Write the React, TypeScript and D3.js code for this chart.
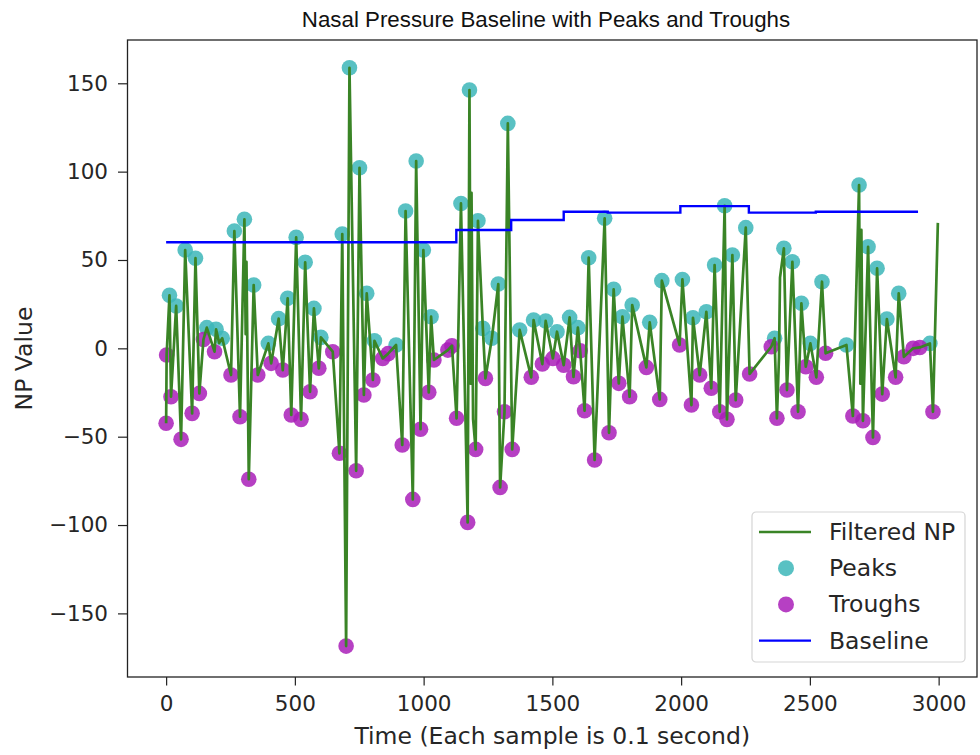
import * as d3 from "d3";
import { useEffect, useRef } from "react";

// sample index, value
const peaks: [number, number][] = [
  [13, 30], [39, 24], [74, 55.6], [114, 51], [158, 11.7], [194, 10.8], [218, 5.7], [265, 66.4], [304, 73], [340, 35.8],
  [397, 2.8], [437, 16.8], [472, 28.3], [505, 62.8], [540, 48.7], [574, 22.6], [601, 6.2], [684, 64.7], [712, 158.8], [751, 102.2],
  [779, 31.1], [809, 4.3], [893, 1.9], [930, 77.7], [971, 106], [999, 55.6], [1029, 17.9], [1145, 82], [1178, 146.2], [1211, 72.2],
  [1230, 11.3], [1265, 5.7], [1290, 36.4], [1327, 127.3], [1373, 10.4], [1427, 16], [1474, 15.5], [1518, 9.4], [1567, 17.5], [1599, 11.7],
  [1641, 51.3], [1703, 73.6], [1738, 33.4], [1772, 17.9], [1810, 24.5], [1878, 14.7], [1925, 38.3], [2005, 39], [2046, 17.3], [2098, 20.7],
  [2130, 47.1], [2169, 80.7], [2199, 52.8], [2251, 68.3], [2363, 5.7], [2399, 56.6], [2432, 49], [2467, 25.5], [2502, 2.8], [2547, 37.7],
  [2642, 1.9], [2691, 92.4], [2726, 57.5], [2761, 45.3], [2799, 16.6], [2845, 31.1], [2966, 2.8],
];

const troughs: [number, number][] = [
  [0, -42.4], [2, -3.8], [19, -27.4], [58, -51.5], [101, -36.8], [129, -25.5], [145, 5], [188, -1.9], [252, -15.1], [287, -38.7],
  [321, -74.1], [356, -15.1], [408, -8.5], [453, -12.3], [486, -37.7], [524, -40.2], [559, -24.6], [593, -11.3], [647, -1.9], [673, -59.4],
  [699, -168.5], [738, -69.3], [768, -26.4], [803, -17.9], [841, -5.7], [862, -3], [917, -54.7], [958, -85.5], [988, -45.8], [1020, -24.9],
  [1040, -6.6], [1094, -1], [1110, 1.5], [1128, -39.6], [1171, -98.5], [1202, -57.2], [1240, -17], [1297, -78.7], [1314, -35.9], [1344, -57.2],
  [1418, -16.4], [1461, -8.9], [1502, -5.7], [1544, -9.5], [1582, -16.1], [1608, -1.4], [1625, -35.3], [1664, -63.2], [1720, -47.8], [1758, -19.8],
  [1800, -27.4], [1865, -10.8], [1917, -28.9], [1994, 1.9], [2040, -32.1], [2072, -15.1], [2117, -22.6], [2150, -35.9], [2178, -40.2], [2212, -29.3],
  [2266, -14.5], [2350, 0.9], [2372, -39.6], [2411, -23.6], [2454, -35.9], [2484, -10.4], [2525, -16.4], [2561, -2.8], [2667, -38.3], [2706, -41],
  [2745, -50.4], [2781, -25.9], [2833, -16.4], [2865, -4.8], [2901, 0], [2927, 0.5], [2978, -35.9],
];

// unmarked vertices of the filtered trace (secondary spikes, end point)
const extraVertices: [number, number][] = [
  [206, 3], [309, 8], [312, 49], [1183, -20], [1186, 88], [1192, -40], [2380, -5], [2384, 40], [2696, -20], [2700, 67], [2997, 71],
];

// baseline steps: start sample, level
const baselineSteps: [number, number][] = [
  [0, 60], [1127, 67], [1340, 72.6], [1544, 77.3], [1715, 76.8], [1997, 80.5], [2263, 76.8], [2523, 77.3], [2920, 77.3],
];

const xTicks = [0, 500, 1000, 1500, 2000, 2500, 3000];
const yTicks = [-150, -100, -50, 0, 50, 100, 150];
const legendLabels = ["Filtered NP", "Peaks", "Troughs", "Baseline"];

const App = () => {
  const svgRef = useRef<SVGSVGElement>(null);

  const renderSVG = () => {
    const dims = { width: 980, height: 755, left: 127.5, right: 977, top: 40, bottom: 677 };
    const green = "#3a8426";
    const cyan = "#3cb6b9";
    const magenta = "#a91fb8";
    const blue = "#0000ff";
    const font = "DejaVu Sans, Verdana, sans-serif";

    const x = d3.scaleLinear([-150, 3149], [dims.left, dims.right]);
    const y = d3.scaleLinear([-186, 174.5], [dims.bottom, dims.top]);

    const svg = d3.select(svgRef.current);
    svg.selectAll("*").remove();
    svg.attr("width", dims.width).attr("height", dims.height);

    svg.append("rect").attr("width", dims.width).attr("height", dims.height).attr("fill", "white");

    const plot = svg.append("g");

    // markers under the trace
    plot.selectAll("circle.peak")
      .data(peaks)
      .enter()
      .append("circle")
      .attr("cx", (d) => x(d[0]))
      .attr("cy", (d) => y(d[1]))
      .attr("r", 7.8)
      .attr("fill", cyan)
      .attr("fill-opacity", 0.85);

    plot.selectAll("circle.trough")
      .data(troughs)
      .enter()
      .append("circle")
      .attr("cx", (d) => x(d[0]))
      .attr("cy", (d) => y(d[1]))
      .attr("r", 7.8)
      .attr("fill", magenta)
      .attr("fill-opacity", 0.85);

    const signal = [...peaks, ...troughs, ...extraVertices].sort((a, b) => a[0] - b[0]);
    const line = d3.line<[number, number]>().x((d) => x(d[0])).y((d) => y(d[1]));

    plot.append("path")
      .attr("d", line(signal))
      .attr("fill", "none")
      .attr("stroke", green)
      .attr("stroke-width", 2.7)
      .attr("stroke-linejoin", "round");

    const stepLine = d3.line<[number, number]>().x((d) => x(d[0])).y((d) => y(d[1])).curve(d3.curveStepAfter);
    plot.append("path")
      .attr("d", stepLine(baselineSteps))
      .attr("fill", "none")
      .attr("stroke", blue)
      .attr("stroke-width", 2.4);

    // axes
    const styleAxis = (g) => {
      g.select("path.domain").remove();
      g.selectAll(".tick line").attr("stroke", "#222").attr("stroke-width", 1.2);
      g.selectAll(".tick text").attr("font-size", 21.5).attr("font-family", font).attr("fill", "#262626");
    };

    svg.append("g")
      .attr("transform", `translate(0,${dims.bottom})`)
      .call(d3.axisBottom(x).tickValues(xTicks).tickFormat(d3.format("d")).tickSize(8.5).tickPadding(10))
      .call(styleAxis);

    svg.append("g")
      .attr("transform", `translate(${dims.left},0)`)
      .call(d3.axisLeft(y).tickValues(yTicks).tickFormat(d3.format("d")).tickSize(9.5).tickPadding(10))
      .call(styleAxis);

    svg.append("rect")
      .attr("x", dims.left)
      .attr("y", dims.top)
      .attr("width", dims.right - dims.left)
      .attr("height", dims.bottom - dims.top)
      .attr("fill", "none")
      .attr("stroke", "#222")
      .attr("stroke-width", 1.3);

    svg.append("text")
      .attr("x", 546)
      .attr("y", 27)
      .attr("text-anchor", "middle")
      .attr("font-size", 22.3)
      .attr("font-family", "Liberation Sans, Arial, sans-serif")
      .attr("fill", "#111")
      .text("Nasal Pressure Baseline with Peaks and Troughs");

    svg.append("text")
      .attr("x", (dims.left + dims.right) / 2)
      .attr("y", 744)
      .attr("text-anchor", "middle")
      .attr("font-size", 23.5)
      .attr("font-family", font)
      .attr("fill", "#262626")
      .text("Time (Each sample is 0.1 second)");

    svg.append("text")
      .attr("transform", `translate(31.5,${(dims.top + dims.bottom) / 2}) rotate(-90)`)
      .attr("text-anchor", "middle")
      .attr("font-size", 23.5)
      .attr("font-family", font)
      .attr("fill", "#262626")
      .text("NP Value");

    // legend
    const legend = svg.append("g").attr("transform", "translate(752,512)");
    legend.append("rect")
      .attr("width", 213)
      .attr("height", 150)
      .attr("rx", 4)
      .attr("fill", "white")
      .attr("fill-opacity", 0.8)
      .attr("stroke", "#d5d5d5")
      .attr("stroke-width", 1.2);

    const rowY = (i) => 20 + i * 36.2;
    legendLabels.forEach((label, i) => {
      const g = legend.append("g").attr("transform", `translate(0,${rowY(i)})`);
      if (i === 0 || i === 3) {
        g.append("line")
          .attr("x1", 7).attr("x2", 59)
          .attr("stroke", i === 0 ? green : blue)
          .attr("stroke-width", 2.4);
      } else {
        g.append("circle")
          .attr("cx", 34)
          .attr("r", 8)
          .attr("fill", i === 1 ? cyan : magenta)
          .attr("fill-opacity", 0.85);
      }
      g.append("text")
        .attr("x", 77)
        .attr("dominant-baseline", "central")
        .attr("font-size", 23.5)
        .attr("font-family", font)
        .attr("fill", "#262626")
        .text(label);
    });
  };

  useEffect(() => {
    renderSVG();
  });

  return <svg ref={svgRef} style={{ position: "absolute", left: 0, top: 0 }} />;
};

export default App;
